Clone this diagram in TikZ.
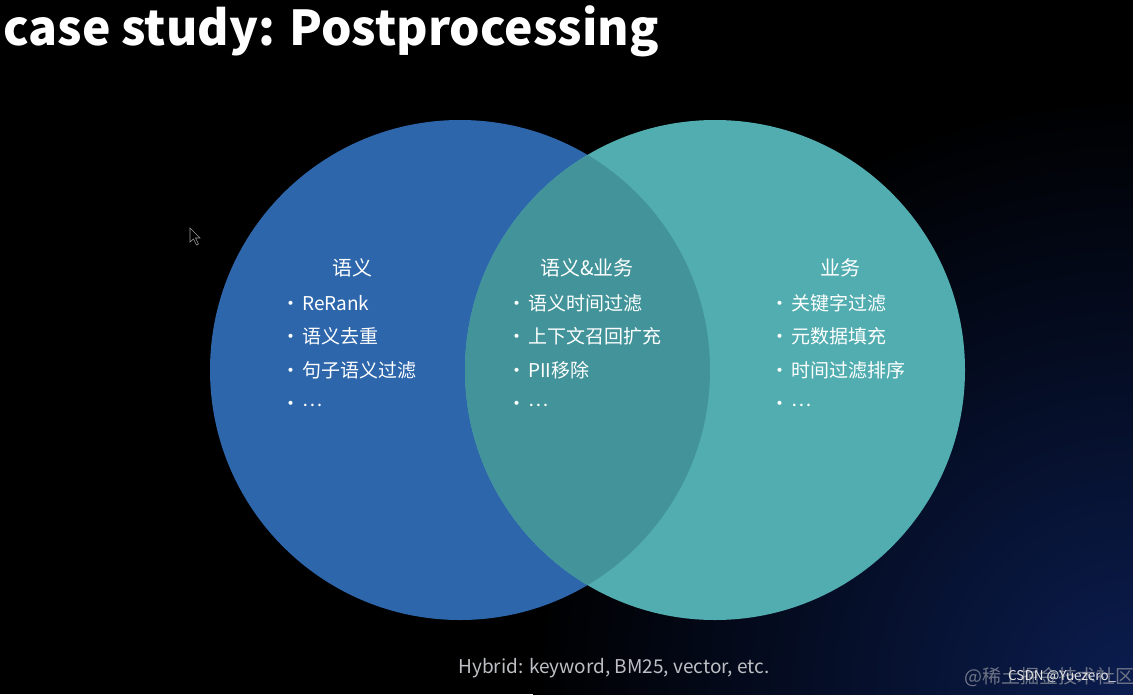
\documentclass[tikz,border=0pt]{standalone}
\usepackage{fontspec}
\setmainfont{Noto Sans CJK SC}
\usepackage{tikz}
\usetikzlibrary{positioning}

\definecolor{semblue}{HTML}{2D66AB}
\definecolor{bizteal}{HTML}{52ADB0}
\definecolor{mixteal}{HTML}{43949A}
\definecolor{bgblue}{HTML}{0B1D50}
\definecolor{hybgray}{HTML}{BDBFC4}
\definecolor{wmgray}{HTML}{6E7486}

\begin{document}
\begin{tikzpicture}[x=1pt,y=-1pt,
			node distance=33.5pt,
			every node/.style={
				inner sep=0pt,
				text=white
			},
			venn/.style={
				circle,
				minimum size=500pt
			},
			head/.style={
				font=\fontsize{20}{24}\selectfont
			},
			item/.style={
				anchor=west,
				text height=14pt,
				text depth=4pt,
				font=\fontsize{19}{22}\selectfont
			}]
			
			\useasboundingbox(0,0)rectangle(1133,694);
			
			\fill[black](0,0)rectangle(1133,694);
			
			\begin{scope}
				\clip(0,0)rectangle(1133,694);
				\shade[inner color=bgblue,outer color=black](1133,694)circle(600pt);
			\end{scope}
			
			\draw[gray!80,fill=black,line width=0.6pt](190,228)--(190,242)--(193.5,239)--(196.5,245)--(198.5,244)--(195.5,238)--(200,238)--cycle;
			
			\node(title)[anchor=base west,font=\fontsize{48}{56}\selectfont\bfseries] at (3,45){case study: Postprocessing};
			
			\node(sem)[venn,fill=semblue] at (460,370){};
			
			\node(biz)[venn,fill=bizteal] at (715,370){};
			
			\begin{scope}
				\clip(sem.center)circle(250pt);
				\fill[mixteal](biz.center)circle(250pt);
			\end{scope}
			
			% left: semantic
			\node(semhead)[head] at (352,268){语义};
			
			\node(sem1)[item] at (281,305){\textbullet\hspace{2pt}ReRank};
			
			\node(sem2)[item,below=of sem1.west,anchor=west]{\textbullet\hspace{2pt}语义去重};
			
			\node(sem3)[item,below=of sem2.west,anchor=west]{\textbullet\hspace{2pt}句子语义过滤};
			
			\node(sem4)[item,below=of sem3.west,anchor=west]{\textbullet\hspace{2pt}\raisebox{4pt}{…}};
			
			% middle: both
			\node(mixhead)[head] at (587,268){语义\&业务};
			
			\node(mix1)[item] at (507,305){\textbullet\hspace{2pt}语义时间过滤};
			
			\node(mix2)[item,below=of mix1.west,anchor=west]{\textbullet\hspace{2pt}上下文召回扩充};
			
			\node(mix3)[item,below=of mix2.west,anchor=west]{\textbullet\hspace{2pt}PII移除};
			
			\node(mix4)[item,below=of mix3.west,anchor=west]{\textbullet\hspace{2pt}\raisebox{4pt}{…}};
			
			% right: business
			\node(bizhead)[head] at (840,268){业务};
			
			\node(biz1)[item] at (770,305){\textbullet\hspace{2pt}关键字过滤};
			
			\node(biz2)[item,below=of biz1.west,anchor=west]{\textbullet\hspace{2pt}元数据填充};
			
			\node(biz3)[item,below=of biz2.west,anchor=west]{\textbullet\hspace{2pt}时间过滤排序};
			
			\node(biz4)[item,below=of biz3.west,anchor=west]{\textbullet\hspace{2pt}\raisebox{4pt}{…}};
			
			\node(hybrid)[text=hybgray,font=\fontsize{19}{22}\selectfont] at (614,668){Hybrid: keyword, BM25, vector, etc.};
			
			\node(wmjj)[anchor=west,text=wmgray,font=\fontsize{19}{22}\selectfont] at (964,677){@稀土掘金技术社区};
			
			\node(wmcsdn)[anchor=west,text=white!80!gray,font=\fontsize{13.5}{16}\selectfont] at (1008,677){CSDN @Yuezero\_};
			
		\end{tikzpicture}
\end{document}
